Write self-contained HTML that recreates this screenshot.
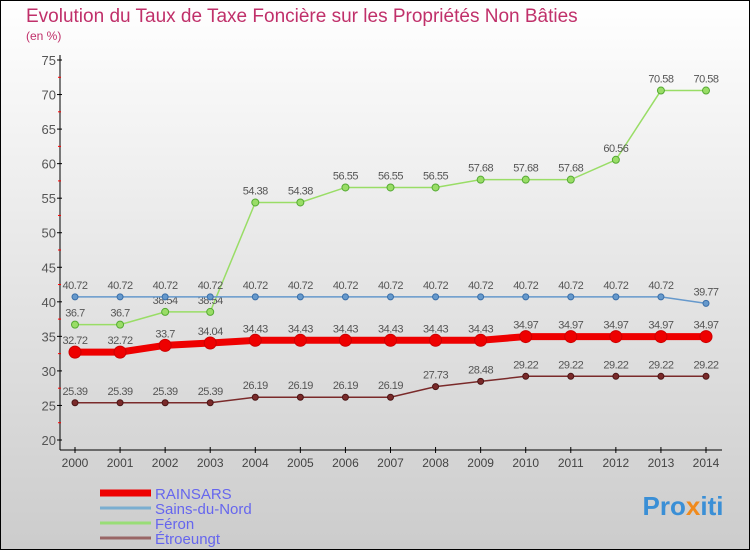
<!DOCTYPE html>
<html><head><meta charset="utf-8"><style>
body{margin:0;}
#c{width:750px;height:550px;position:relative;background:linear-gradient(#fff,#ccc);font-family:"Liberation Sans",sans-serif;overflow:hidden;box-sizing:border-box;border:1px solid #000;}
</style></head><body>
<div id="c">
<svg id="s" width="750" height="550" style="position:absolute;left:-1px;top:-1px">
<text x="26" y="22" font-size="19" fill="#c0306a">Evolution du Taux de Taxe Foncière sur les Propriétés Non Bâties</text>
<text x="26" y="40" font-size="12" fill="#c0306a">(en %)</text>
<text x="683" y="515" font-size="26" font-weight="bold" fill="#3a8fd6" text-anchor="middle">Pro<tspan fill="#f08a1c">x</tspan>iti</text>
</svg>
</div>
<script>
const years=[2000,2001,2002,2003,2004,2005,2006,2007,2008,2009,2010,2011,2012,2013,2014];
const yTicks=[20,25,30,35,40,45,50,55,60,65,70,75];
const rainsars=[32.72,32.72,33.7,34.04,34.43,34.43,34.43,34.43,34.43,34.43,34.97,34.97,34.97,34.97,34.97];
const sains=[40.72,40.72,40.72,40.72,40.72,40.72,40.72,40.72,40.72,40.72,40.72,40.72,40.72,40.72,39.77];
const feron=[36.7,36.7,38.54,38.54,54.38,54.38,56.55,56.55,56.55,57.68,57.68,57.68,60.56,70.58,70.58];
const etroeungt=[25.39,25.39,25.39,25.39,26.19,26.19,26.19,26.19,27.73,28.48,29.22,29.22,29.22,29.22,29.22];
const NS="http://www.w3.org/2000/svg",s=document.getElementById('s');
const X=i=>75+i*(706-75)/14, Y=v=>440-(v-20)*(380/55);
function el(t,a,p){const e=document.createElementNS(NS,t);for(const k in a)e.setAttribute(k,a[k]);(p||s).appendChild(e);return e;}
// axes
let ax=el('line',{x1:60,y1:55,x2:60,y2:450,stroke:'#000','stroke-width':1});


let bx=el('line',{x1:60,y1:450,x2:722,y2:450,stroke:'#000','stroke-width':1});


yTicks.forEach((v,i)=>{
 el('line',{x1:57,y1:Y(v),x2:62,y2:Y(v),stroke:'#000'});
 if(i<yTicks.length-1) el('line',{x1:58,y1:Y(v+2.5),x2:61,y2:Y(v+2.5),stroke:'#f00'});
 const t=el('text',{x:56,y:Y(v)+5,'font-size':13,fill:'#555','text-anchor':'end'});
 t.textContent=v;
 
 
});
years.forEach((y,i)=>{
 el('line',{x1:X(i),y1:447,x2:X(i),y2:453,stroke:'#000'});
 const t=el('text',{x:X(i),y:467,'font-size':12,fill:'#444','text-anchor':'middle'});
 t.textContent=y;
 
 
});
function series(d,color,w,r,name,lcol){
 const g=el('g',{});
 
 
 el('polyline',{points:d.map((v,i)=>X(i)+','+Y(v)).join(' '),fill:'none',stroke:color,'stroke-width':w},g);
 d.forEach((v,i)=>{
  const c=el('circle',{cx:X(i),cy:Y(v),r:r,fill:color,stroke:lcol,'stroke-width':1},g);
  
  
  const t=el('text',{x:X(i),y:Y(v)-8,'font-size':11,fill:'#555','text-anchor':'middle','letter-spacing':'-0.5'},g);
  t.textContent=v;
  
  
 });
}
series(etroeungt,'#7a2a2a',1.5,3,'etroeungt','#4a1515');
series(feron,'#99dd66',1.5,3.5,'feron','#55aa33');
series(sains,'#6699cc',1.5,3,'sains-du-nord','#3a6ea8');
series(rainsars,'#ee0000',7,6,'rainsars','#cc0000');
const leg=[['RAINSARS','#ee0000',7],['Sains-du-Nord','#7aaed0',3],['Féron','#99dd77',3],['Étroeungt','#996666',3]];
leg.forEach((l,i)=>{
 const y=493+i*15;
 const ln=el('line',{x1:100,y1:y,x2:151,y2:y,stroke:l[1],'stroke-width':l[2]});
 
 
 const t=el('text',{x:155,y:y+6,'font-size':15,fill:'#6666ee'});
 t.textContent=l[0];
 
 
});
</script>
</body></html>
